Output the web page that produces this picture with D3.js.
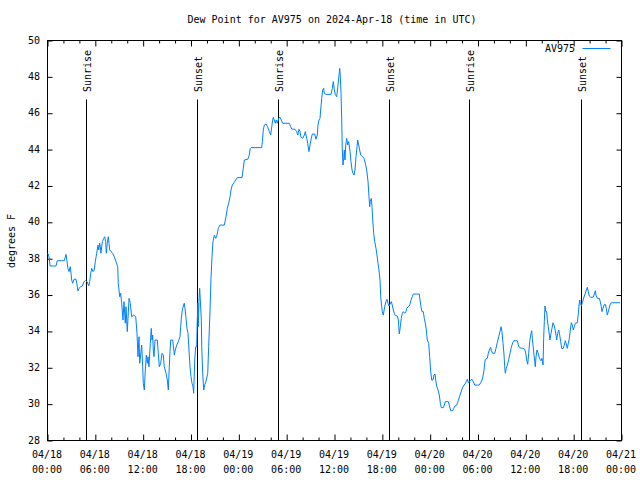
<!DOCTYPE html>
<html><head><meta charset="utf-8">
<script src="https://cdn.jsdelivr.net/npm/d3@7"></script>
<style>
body{margin:0;background:#fff;}
svg text{font-family:"DejaVu Sans Mono","Liberation Mono",monospace;font-size:10px;fill:#000;}
</style></head><body>
<div id="chart"></div>
<script>
const title = "Dew Point for AV975 on 2024-Apr-18 (time in UTC)";
const yLabel = "degrees F";
const seriesName = "AV975";
// hours since 2024-04-18 00:00 UTC
const hours = [0.05,0.16,0.29,0.38,1.13,1.29,2.17,2.38,2.47,2.63,2.76,2.92,3.01,3.10,3.22,3.39,3.64,3.73,3.89,4.01,4.23,4.43,4.64,4.85,5.06,5.23,5.36,5.48,5.61,5.77,5.93,6.06,6.23,6.40,6.49,6.61,6.69,6.77,6.94,7.11,7.24,7.36,7.44,7.56,7.69,7.78,7.87,8.03,8.24,8.44,8.66,8.87,8.94,9.12,9.24,9.37,9.53,9.66,9.82,9.91,10.07,10.29,10.45,10.62,10.88,11.13,11.29,11.41,11.54,11.63,11.88,12.00,12.08,12.21,12.33,12.46,12.58,12.67,12.79,12.96,13.08,13.17,13.26,13.33,13.42,13.55,13.84,13.96,14.09,14.26,14.43,14.59,14.71,14.93,15.09,15.22,15.34,15.43,15.52,15.77,15.84,15.97,16.09,16.27,16.47,16.68,16.77,16.85,16.97,17.10,17.22,17.31,17.44,17.56,17.69,17.81,17.94,18.06,18.19,18.31,18.40,18.53,18.65,18.78,18.85,18.94,18.98,19.07,19.15,19.23,19.36,19.41,19.53,19.66,19.78,19.94,20.16,20.28,20.45,20.57,20.70,20.82,20.99,21.16,21.32,21.49,21.70,22.24,22.45,22.62,22.79,22.96,23.08,23.24,23.46,23.67,23.87,24.46,24.62,24.75,25.18,25.34,25.50,25.59,26.93,27.01,27.13,27.26,27.47,27.68,27.89,28.06,28.14,28.31,28.39,28.51,28.64,28.76,28.89,29.06,29.23,29.39,29.57,30.39,30.57,30.69,31.11,31.32,31.45,31.61,31.74,31.86,32.07,32.28,32.40,32.58,32.70,32.86,32.99,33.15,33.28,33.58,33.74,33.91,33.99,34.12,34.24,34.33,34.46,34.58,34.71,34.78,34.99,35.62,35.79,35.91,36.04,36.16,36.34,36.50,36.63,36.72,36.79,36.88,36.97,37.04,37.13,37.22,37.29,37.38,37.47,37.59,37.72,37.84,38.01,38.13,38.26,38.38,38.51,38.63,38.76,38.89,38.97,39.10,39.22,39.35,39.60,39.76,39.93,40.10,40.27,40.39,40.48,40.55,40.68,40.77,40.86,40.98,41.11,41.27,41.39,41.52,41.64,41.77,41.86,41.98,42.06,42.18,42.36,42.52,42.65,42.77,42.90,43.03,43.19,43.31,43.44,43.57,43.69,43.94,44.07,44.19,44.32,44.44,44.57,44.69,44.87,45.03,45.12,45.32,45.50,45.66,45.82,45.95,46.70,46.79,46.91,47.04,47.20,47.33,47.45,47.58,47.70,47.88,48.00,48.13,48.26,48.42,48.54,48.67,48.76,48.88,49.05,49.21,49.34,49.46,49.71,49.84,49.96,50.34,50.46,50.64,50.89,51.01,51.18,51.39,51.59,51.81,52.02,52.22,52.43,52.60,52.72,52.85,52.97,53.15,53.31,53.47,53.65,54.22,54.40,54.57,54.69,54.82,54.90,54.98,55.23,55.36,55.48,55.66,55.73,55.91,56.16,56.32,56.48,56.66,56.82,56.95,57.07,57.20,57.33,57.41,57.49,57.61,57.74,57.92,58.08,58.24,58.42,58.55,59.00,59.12,59.25,59.67,59.92,60.05,60.17,60.30,60.42,60.55,60.67,60.80,60.88,60.96,61.09,61.18,61.25,61.34,61.46,61.59,61.72,61.84,61.97,62.09,62.22,62.30,62.38,62.47,62.56,62.68,62.76,62.88,63.01,63.09,63.22,63.34,63.47,63.59,63.72,63.85,63.93,64.06,64.19,64.31,64.44,64.56,64.76,64.89,65.01,65.14,65.26,65.39,65.52,65.64,65.77,65.89,66.02,66.14,66.27,66.52,66.65,66.74,66.82,66.90,67.03,67.15,67.28,67.40,67.53,67.65,67.77,67.90,68.02,68.20,68.53,68.65,68.78,68.86,69.03,69.28,69.40,69.53,69.61,69.74,69.87,70.03,70.16,70.28,70.46,70.58,70.71,70.87,71.87];
const dewPoint = [38.23,38.23,37.99,37.57,37.57,37.86,37.86,38.21,37.94,37.44,37.26,37.53,37.17,36.80,36.62,36.84,36.84,36.62,36.19,36.34,36.43,36.47,36.71,36.76,36.69,36.47,36.71,37.17,37.44,37.26,37.35,37.81,38.27,38.72,38.45,38.82,38.63,38.27,38.91,39.09,39.18,38.91,38.27,38.82,39.18,38.82,38.45,38.36,38.27,38.08,37.81,37.53,36.62,35.88,36.07,35.52,34.60,35.61,34.42,35.33,33.96,35.79,35.52,34.78,34.87,34.78,33.87,32.58,33.68,32.22,33.22,32.03,31.12,30.75,31.85,32.67,32.22,32.58,32.03,33.32,34.14,33.50,33.77,32.95,32.58,33.50,33.50,32.77,32.03,32.22,32.77,32.67,32.03,31.67,31.30,30.75,32.03,32.86,33.50,33.50,33.22,32.67,32.95,33.22,33.41,33.68,34.23,34.69,35.15,35.37,35.52,35.24,34.69,34.14,33.87,32.95,32.03,31.48,31.12,30.93,30.57,32.40,33.13,33.13,34.60,35.52,34.23,35.70,36.34,35.70,34.60,33.13,31.67,30.75,31.02,31.21,31.67,33.13,35.15,36.89,38.08,38.91,39.27,39.09,39.27,39.64,39.82,39.82,40.28,40.74,41.02,41.38,41.75,42.02,42.15,42.30,42.43,42.43,42.94,43.40,43.44,43.62,44.04,44.08,44.08,44.41,45.05,45.32,45.38,45.23,44.96,44.77,45.05,45.60,45.75,45.60,45.42,45.60,45.42,45.69,45.75,45.60,45.42,45.42,45.23,45.10,45.09,44.96,44.77,45.09,44.96,44.65,44.59,44.77,44.96,44.59,44.32,43.86,44.22,44.59,44.83,44.83,44.54,44.77,45.32,45.60,45.69,46.15,46.79,47.25,47.34,47.07,47.01,47.01,47.34,47.71,47.25,47.01,46.88,47.52,48.07,48.44,47.98,47.07,45.60,43.95,43.12,43.49,43.95,43.40,44.22,44.59,44.22,44.41,43.86,43.31,42.85,42.67,42.57,42.85,43.58,44.13,44.50,44.22,43.95,43.67,43.58,43.49,43.22,42.85,42.21,41.38,40.83,41.11,41.29,40.83,40.10,39.37,38.91,38.54,38.17,37.72,37.35,36.80,35.88,35.33,35.06,34.87,35.33,35.61,35.74,35.52,35.37,35.48,35.61,35.42,35.15,34.97,34.84,34.82,34.60,33.83,34.23,34.69,34.97,35.06,34.97,35.06,35.24,35.33,35.42,35.70,35.88,36.03,36.03,35.70,35.33,35.06,35.06,34.69,34.42,34.05,33.50,33.32,32.58,31.76,31.30,31.30,31.57,31.63,31.30,30.97,30.75,30.47,30.02,29.78,29.78,29.92,30.11,30.11,29.92,29.61,29.61,29.74,29.87,29.92,30.16,30.47,30.75,30.97,31.08,31.21,31.34,31.15,31.21,31.30,31.34,31.21,31.02,31.02,31.15,31.30,31.52,31.85,32.22,32.44,32.49,32.77,32.95,33.10,32.91,32.77,32.77,33.04,33.35,33.68,33.96,34.23,33.96,33.32,32.67,32.03,31.67,31.94,32.12,32.44,32.77,33.10,33.35,33.46,33.46,33.22,33.08,33.04,33.00,32.77,32.40,32.16,32.77,33.41,33.77,34.01,33.59,33.22,32.67,32.31,32.03,32.58,32.95,32.80,32.58,32.44,32.36,32.49,32.12,33.59,34.51,35.37,35.06,35.06,34.60,34.23,33.77,33.50,33.87,34.14,34.45,34.32,34.09,33.77,33.50,33.87,34.05,33.77,33.41,33.04,33.04,33.22,33.46,33.28,33.04,33.32,33.59,34.05,34.45,34.32,34.05,34.23,34.42,34.45,34.97,35.42,35.70,35.52,35.37,35.55,35.74,35.92,36.07,36.25,36.40,36.16,35.92,35.85,35.85,36.03,36.21,35.97,35.79,35.79,35.61,35.33,35.06,35.24,35.42,35.46,35.24,34.87,35.15,35.37,35.52,35.55,35.55];
const sunEvents = ["Sunrise","Sunset","Sunrise","Sunset","Sunrise","Sunset"];
const sunHours = [4.93,18.85,29.02,42.94,52.97,67.02];
const xTickHours = [0,6,12,18,24,30,36,42,48,54,60,66,72];
const xTickDates = ["04/18","04/18","04/18","04/18","04/19","04/19","04/19","04/19","04/20","04/20","04/20","04/20","04/21"];
const xTickTimes = ["00:00","06:00","12:00","18:00","00:00","06:00","12:00","18:00","00:00","06:00","12:00","18:00","00:00"];
const yTicks = [28,30,32,34,36,38,40,42,44,46,48,50];

const W = 640, H = 480;
const m = {left:47, right:19, top:40, bottom:40};
const svg = d3.select("#chart").append("svg").attr("width",W).attr("height",H);
const x = d3.scaleLinear().domain([0,72]).range([m.left, W-m.right]);
const y = d3.scaleLinear().domain([28,50]).range([H-m.bottom, m.top]);

// title
svg.append("text").attr("x",(m.left+W-m.right)/2 - 2).attr("y",23).attr("text-anchor","middle").text(title);
// y label
svg.append("text").attr("transform","translate(15,241) rotate(-90)").attr("text-anchor","middle").text(yLabel);

const minor = d3.range(0,73,2).filter(h=>h%6!==0);
const g = svg.append("g").attr("transform","translate(0.5,0.5)");
g.append("g").attr("transform",`translate(0,${H-m.bottom})`)
  .call(d3.axisBottom(x).tickValues(xTickHours).tickSize(-6).tickFormat("")).select(".domain").remove();
g.append("g").attr("transform",`translate(0,${H-m.bottom})`)
  .call(d3.axisBottom(x).tickValues(minor).tickSize(-3).tickFormat("")).select(".domain").remove();
g.append("g").attr("transform",`translate(0,${m.top})`)
  .call(d3.axisTop(x).tickValues(xTickHours).tickSize(-6).tickFormat("")).select(".domain").remove();
g.append("g").attr("transform",`translate(0,${m.top})`)
  .call(d3.axisTop(x).tickValues(minor).tickSize(-3).tickFormat("")).select(".domain").remove();
g.append("g").attr("transform",`translate(${m.left},0)`)
  .call(d3.axisLeft(y).tickValues(yTicks).tickSize(-5).tickFormat("")).select(".domain").remove();
g.append("g").attr("transform",`translate(${W-m.right},0)`)
  .call(d3.axisRight(y).tickValues(yTicks).tickSize(-5).tickFormat("")).select(".domain").remove();
g.selectAll(".tick line").attr("stroke","#000");

xTickHours.forEach((h,i)=>{
  const t = svg.append("text").attr("x",x(h)).attr("y",458).attr("text-anchor","middle");
  t.append("tspan").attr("x",x(h)).text(xTickDates[i]);
  t.append("tspan").attr("x",x(h)).attr("dy",15).text(xTickTimes[i]);
});
yTicks.forEach(v=>{
  svg.append("text").attr("x",40).attr("y",y(v)+3.5).attr("text-anchor","end").text(v);
});

sunHours.forEach((h,i)=>{
  g.append("line").attr("x1",Math.round(x(h))).attr("x2",Math.round(x(h)))
    .attr("y1",99).attr("y2",H-m.bottom).attr("stroke","#000").attr("stroke-width",1);
  svg.append("text").attr("transform",`translate(${Math.round(x(h))+5},92) rotate(-90)`)
    .attr("text-anchor","start").text(sunEvents[i]);
});

const data = hours.map((h,i)=>({h, v:dewPoint[i]}));
svg.append("path").datum(data)
  .attr("fill","none").attr("stroke","#0080ff").attr("stroke-width",1)
  .attr("d", d3.line().x(d=>x(d.h)).y(d=>y(d.v)));

g.append("rect").attr("x",m.left).attr("y",m.top).attr("width",W-m.left-m.right).attr("height",H-m.top-m.bottom)
  .attr("fill","none").attr("stroke","#000");

svg.append("text").attr("x",575).attr("y",52).attr("text-anchor","end").text(seriesName);
g.append("line").attr("x1",582).attr("x2",610).attr("y1",48).attr("y2",48).attr("stroke","#0080ff");
</script>
</body></html>
